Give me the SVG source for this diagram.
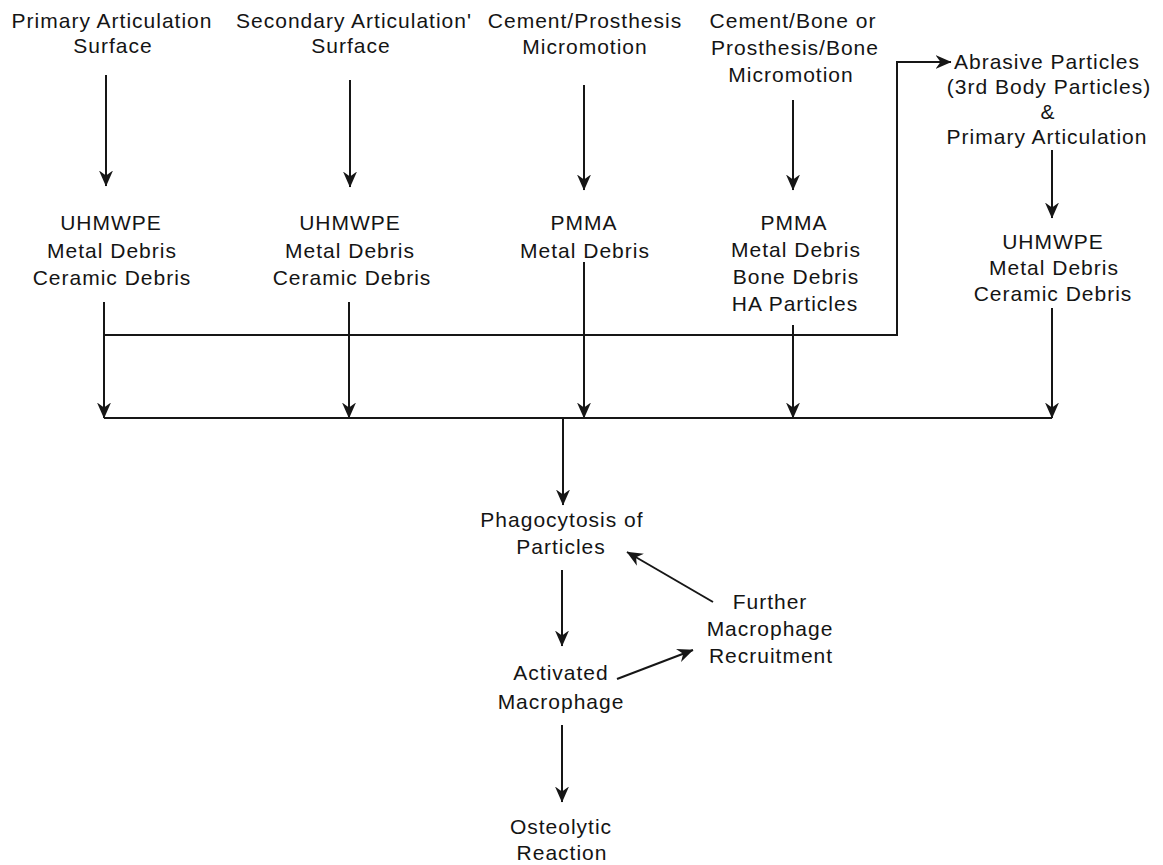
<svg xmlns="http://www.w3.org/2000/svg" width="1163" height="865" viewBox="0 0 1163 865">
<style>
text{font-family:"Liberation Sans",Arial,sans-serif;font-size:21px;fill:#141414;text-anchor:middle;letter-spacing:1px}
.c{fill:none;stroke:#161616;stroke-width:2}
</style>
<defs>
<marker id="ah" markerUnits="userSpaceOnUse" markerWidth="16" markerHeight="16" viewBox="0 0 16 16" refX="15.5" refY="8" orient="auto">
<path d="M0,1 L16,8 L0,15 L5,8 Z" fill="#161616"/>
</marker>
</defs>
<rect width="1163" height="865" fill="#fff"/>
<g id="n-primary"><text x="112" y="28">Primary Articulation</text><text x="113" y="53">Surface</text></g>
<g id="n-secondary"><text x="354" y="28">Secondary Articulation'</text><text x="351" y="53">Surface</text></g>
<g id="n-cementprosthesis"><text x="585" y="28">Cement/Prosthesis</text><text x="585" y="54">Micromotion</text></g>
<g id="n-cementbone"><text x="793" y="28">Cement/Bone or</text><text x="795" y="55">Prosthesis/Bone</text><text x="791" y="82">Micromotion</text></g>
<g id="n-abrasive"><text x="1047" y="69">Abrasive Particles</text><text x="1049" y="94">(3rd Body Particles)</text><text x="1048" y="119">&amp;</text><text x="1047" y="144">Primary Articulation</text></g>
<g id="n-debris1"><text x="111" y="230">UHMWPE</text><text x="112" y="258">Metal Debris</text><text x="112" y="285">Ceramic Debris</text></g>
<g id="n-debris2"><text x="350" y="230">UHMWPE</text><text x="350" y="258">Metal Debris</text><text x="352" y="285">Ceramic Debris</text></g>
<g id="n-debris3"><text x="584" y="230">PMMA</text><text x="585" y="258">Metal Debris</text></g>
<g id="n-debris4"><text x="794" y="230">PMMA</text><text x="796" y="257">Metal Debris</text><text x="796" y="284">Bone Debris</text><text x="795" y="311">HA Particles</text></g>
<g id="n-debris5"><text x="1053" y="249">UHMWPE</text><text x="1054" y="275">Metal Debris</text><text x="1053" y="301">Ceramic Debris</text></g>
<g id="n-phago"><text x="562" y="527">Phagocytosis of</text><text x="561" y="554">Particles</text></g>
<g id="n-activated"><text x="561" y="680">Activated</text><text x="561" y="709">Macrophage</text></g>
<g id="n-further"><text x="770" y="609">Further</text><text x="770" y="636">Macrophage</text><text x="771" y="663">Recruitment</text></g>
<g id="n-osteolytic"><text x="561" y="834">Osteolytic</text><text x="562" y="860">Reaction</text></g>
<g id="connectors">
<path class="c" d="M106,75 V186" marker-end="url(#ah)"/>
<path class="c" d="M350,80 V187" marker-end="url(#ah)"/>
<path class="c" d="M584,85 V190" marker-end="url(#ah)"/>
<path class="c" d="M793,100 V190" marker-end="url(#ah)"/>
<path class="c" d="M1052,150 V218" marker-end="url(#ah)"/>
<path class="c" d="M104,335 H897 V62 H951" marker-end="url(#ah)"/>
<path class="c" d="M104,302 V418" marker-end="url(#ah)"/>
<path class="c" d="M349,302 V418" marker-end="url(#ah)"/>
<path class="c" d="M584,262 V418" marker-end="url(#ah)"/>
<path class="c" d="M793,325 V418" marker-end="url(#ah)"/>
<path class="c" d="M1052,308 V418" marker-end="url(#ah)"/>
<path class="c" d="M104,418 H1052"/>
<path class="c" d="M563,418 V505" marker-end="url(#ah)"/>
<path class="c" d="M562,570 V646" marker-end="url(#ah)"/>
<path class="c" d="M562,725 V802" marker-end="url(#ah)"/>
<path class="c" d="M713,602 L627,552" marker-end="url(#ah)"/>
<path class="c" d="M617,679 L693,650" marker-end="url(#ah)"/>
</g>
</svg>
